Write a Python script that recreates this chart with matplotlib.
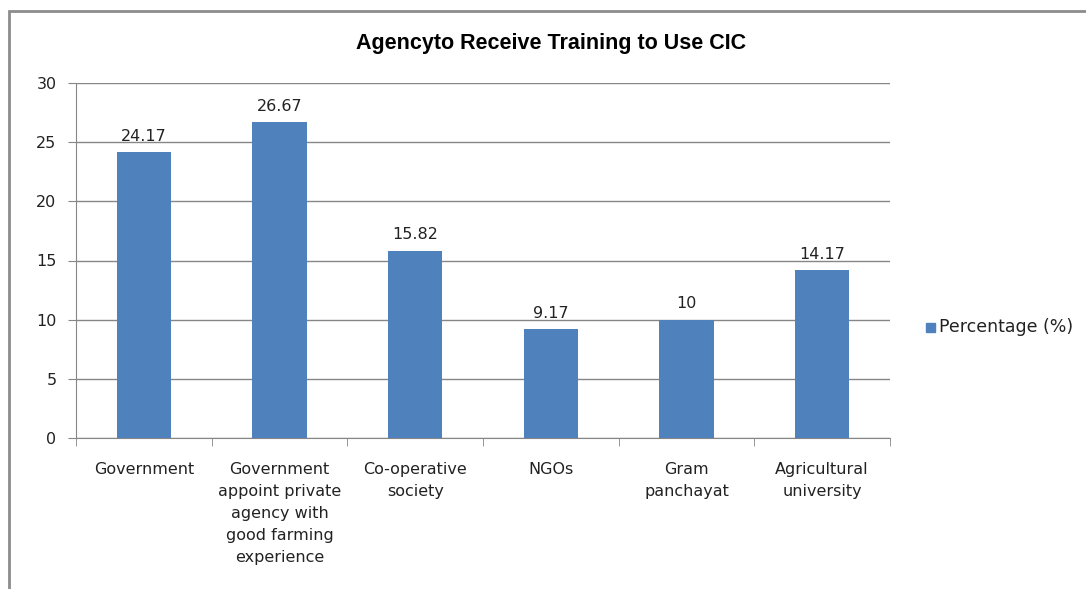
import matplotlib
matplotlib.use("Agg")
import matplotlib.pyplot as plt
from matplotlib.patches import Rectangle

categories = [
    "Government",
    "Government\nappoint private\nagency with\ngood farming\nexperience",
    "Co-operative\nsociety",
    "NGOs",
    "Gram\npanchayat",
    "Agricultural\nuniversity",
]
values = [24.17, 26.67, 15.82, 9.17, 10, 14.17]
value_labels = ["24.17", "26.67", "15.82", "9.17", "10", "14.17"]
yticks = [0, 5, 10, 15, 20, 25, 30]

BAR = "#4f81bd"
GRID = "#868686"
TEXT = "#222222"

plt.rcParams["font.family"] = ["DejaVu Sans"]

W, H = 1086, 589
fig = plt.figure(figsize=(W / 100, H / 100), dpi=100)

# outer chart border (cut off at right/bottom like the source)
fig.patches.append(Rectangle((9 / W, -0.1), 1.2, 1 - 11 / H + 0.1,
                             transform=fig.transFigure, fill=False,
                             edgecolor="#8c8c8c", linewidth=2))

ax = fig.add_axes([76 / W, 1 - 438 / H, (890 - 76) / W, (438 - 83) / H])
x = list(range(len(categories)))
ax.bar(x, values, width=0.4, color=BAR, zorder=3)
for xi, v, lab in zip(x, values, value_labels):
    ax.annotate(lab, (xi, v), textcoords="offset points", xytext=(0, 6),
                ha="center", va="bottom", fontsize=11.5, color=TEXT)

ax.set_xlim(-0.5, len(categories) - 0.5)
ax.set_ylim(0, 30)
ax.set_yticks(yticks)
ax.yaxis.grid(True, color=GRID, linewidth=1)
ax.set_axisbelow(True)
for s in ("top", "right"):
    ax.spines[s].set_visible(False)
for s in ("left", "bottom"):
    ax.spines[s].set_color(GRID)
ax.tick_params(axis="y", colors=GRID, labelcolor=TEXT, labelsize=11.5,
               length=6, direction="out", pad=8)

# category labels centred, ticks between categories
ax.set_xticks(x)
ax.set_xticklabels(categories, fontsize=11.5, color=TEXT, linespacing=1.6)
ax.tick_params(axis="x", length=0, pad=17)
ax.set_xticks([i - 0.5 for i in range(len(categories) + 1)], minor=True)
ax.tick_params(axis="x", which="minor", length=6, color=GRID, direction="out")

fig.text(551 / W, 1 - 44 / H, "Agencyto Receive Training to Use CIC",
         ha="center", va="center", fontsize=15.5, fontweight="bold",
         color="black", family=["Liberation Sans", "DejaVu Sans"])

# legend
fig.patches.append(Rectangle((926 / W, 1 - 332 / H), 9 / W, 9 / H,
                             transform=fig.transFigure, color=BAR))
fig.text(939 / W, 1 - 327 / H, "Percentage (%)", ha="left", va="center",
         fontsize=12.5, color=TEXT)

fig.savefig("out.png", dpi=100)
